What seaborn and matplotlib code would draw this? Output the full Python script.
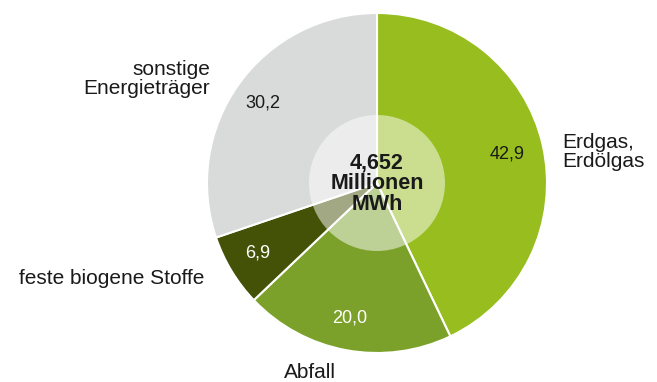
import matplotlib
matplotlib.use("Agg")
import matplotlib.pyplot as plt
import seaborn as sns
from matplotlib.patches import Circle

categories = ["Erdgas,\nErdölgas", "Abfall", "feste biogene Stoffe", "sonstige\nEnergieträger"]
values = [42.9, 20.0, 6.9, 30.2]
value_labels = ["42,9", "20,0", "6,9", "30,2"]
colors = ["#97BD1F", "#7CA12B", "#435207", "#D9DADA"]
value_colors = ["#1a1a1a", "white", "white", "#1a1a1a"]
center_text = "4,652\nMillionen\nMWh"

sns.set_theme(style="white")
plt.rcParams["font.family"] = ["Liberation Sans", "DejaVu Sans"]

W, H = 657, 382
fig = plt.figure(figsize=(W / 100, H / 100), dpi=100)
ax = fig.add_axes([0, 0, 1, 1])

cx, cy, r = 377, H - 183, 170
wedges, _ = ax.pie(values, colors=colors, startangle=90, counterclock=False,
                   center=(cx, cy), radius=r, frame=True,
                   wedgeprops=dict(edgecolor="white", linewidth=1.5))
ax.set_xlim(0, W)
ax.set_ylim(0, H)
ax.set_aspect("equal")
ax.axis("off")

ax.add_patch(Circle((cx, cy), 68, facecolor="white", alpha=0.5, edgecolor="none", zorder=5))
ax.text(cx, H - 183.5, center_text, ha="center", va="center", fontsize=15.5, fontweight="bold",
        color="#1a1a1a", linespacing=1.0, zorder=6)

# value labels
val_pos = [(507, 154), (350, 318), (258, 253), (263, 103)]
for (x, y), t, c in zip(val_pos, value_labels, value_colors):
    ax.text(x, H - y, t, ha="center", va="center", fontsize=13, color=c, zorder=6)

# category labels
cat_pos = [(562, 152, "left"), (310, 372, "center"), (204, 278, "right"), (210, 79, "right")]
for (x, y, ha), t in zip(cat_pos, categories):
    ax.text(x, H - y, t, ha=ha, va="center", fontsize=15, color="#1a1a1a",
            linespacing=1.0, zorder=6)

fig.savefig("out.png", dpi=100)
